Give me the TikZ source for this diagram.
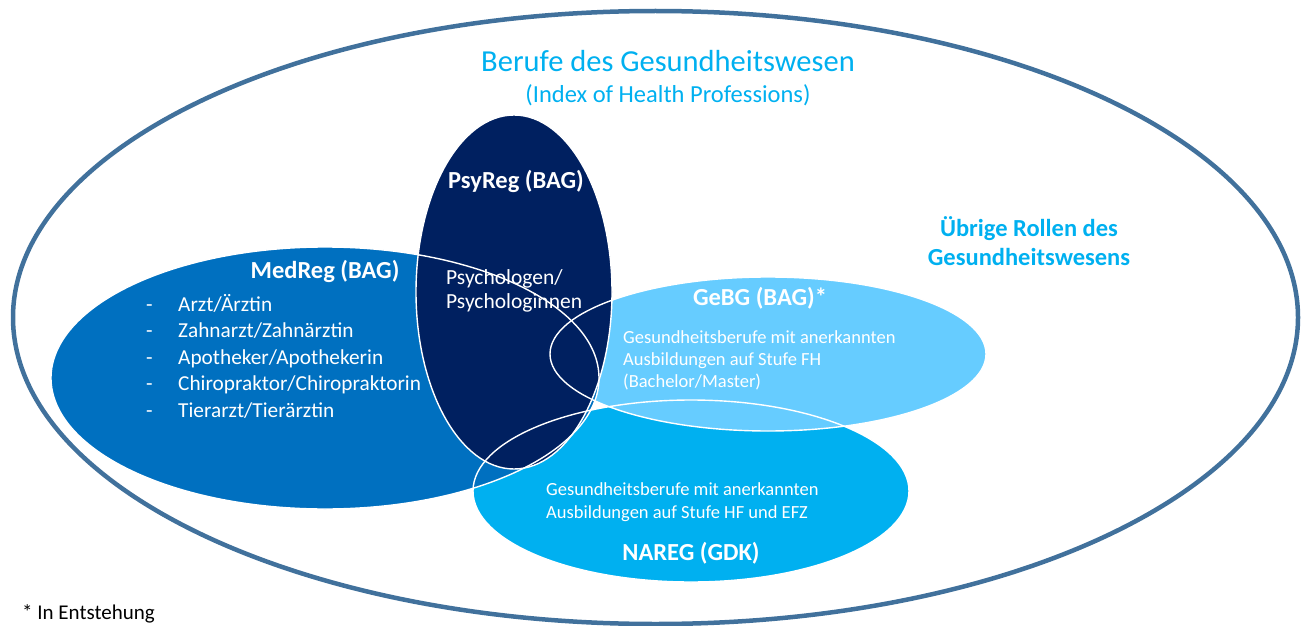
\documentclass[tikz,border=0pt]{standalone}
\usepackage{fontspec}
\setmainfont{Carlito}
\definecolor{medblau}{HTML}{0070C0}
\definecolor{psyblau}{HTML}{002060}
\definecolor{gebgblau}{HTML}{66CCFF}
\definecolor{naregblau}{HTML}{00B0F0}
\definecolor{randblau}{HTML}{41719C}
\begin{document}
\begin{tikzpicture}[x=1pt, y=-1pt, line join=round, line cap=round,
  rand/.style={draw=white, line width=1.4pt},
  kopf/.style={text=white, inner sep=0pt, font=\fontsize{24.5}{29}\selectfont\bfseries},
  liste/.style={text=white, inner sep=0pt, anchor=west, align=left},
  titel/.style={text=naregblau, inner sep=0pt}]
\useasboundingbox (0,0) rectangle (1307,626);
% aeussere Ellipse
\draw[randblau, line width=4.5pt] (655.5,317.5) ellipse [x radius=642.5, y radius=306.5];
% Flaechen
\fill[naregblau] (691,491) ellipse [x radius=218, y radius=91];
\fill[gebgblau] (768,354) ellipse [x radius=218, y radius=77];
\fill[medblau] (325,378) ellipse [x radius=274, y radius=131];
\fill[psyblau] (514,292) ellipse [x radius=98, y radius=177];
% Umrisse
\draw[rand] (691,491) ellipse [x radius=218, y radius=91];
\draw[rand] (768,354) ellipse [x radius=218, y radius=77];
\draw[rand] (325,378) ellipse [x radius=274, y radius=131];
\draw[rand] (514,292) ellipse [x radius=98, y radius=177];
% Titel
\node[titel, font=\fontsize{30.5}{36}\selectfont] (titel) at (668,61) {Berufe des Gesundheitswesen};
\node[titel, font=\fontsize{24.5}{29}\selectfont] (index) at (668,95) {(Index of Health Professions)};
\node[titel, align=center, font=\fontsize{24.5}{29}\selectfont\bfseries] (uebrige) at (1029,241.5) {Übrige Rollen des\\Gesundheitswesens};
% PsyReg
\node[kopf] (psyreg) at (516,181) {PsyReg (BAG)};
\node[liste, font=\fontsize{21.5}{24}\selectfont] (psytext) at (446,291) {Psychologen/\\Psychologinnen};
% MedReg
\node[kopf] (medreg) at (325,271) {MedReg (BAG)};
\node[liste, font=\fontsize{21.3}{26.5}\selectfont] (medtext) at (146,356)
  {\makebox[32pt][l]{-}Arzt/Ärztin\\
   \makebox[32pt][l]{-}Zahnarzt/Zahnärztin\\
   \makebox[32pt][l]{-}Apotheker/Apothekerin\\
   \makebox[32pt][l]{-}Chiropraktor/Chiropraktorin\\
   \makebox[32pt][l]{-}Tierarzt/Tierärztin};
% GeBG
\node[kopf] (gebg) at (760,298) {GeBG (BAG)*};
\node[liste, font=\fontsize{18.5}{22}\selectfont] (gebgtext) at (623,360)
  {Gesundheitsberufe mit anerkannten\\Ausbildungen auf Stufe FH\\(Bachelor/Master)};
% NAREG
\node[liste, font=\fontsize{18.5}{23}\selectfont] (naregtext) at (546,502.5)
  {Gesundheitsberufe mit anerkannten\\Ausbildungen auf Stufe HF und EFZ};
\node[kopf] (nareg) at (691,553) {NAREG (GDK)};
% Fussnote
\node[inner sep=0pt, anchor=west, font=\fontsize{21}{25}\selectfont] (fussnote) at (22,614) {* In Entstehung};
\end{tikzpicture}
\end{document}
